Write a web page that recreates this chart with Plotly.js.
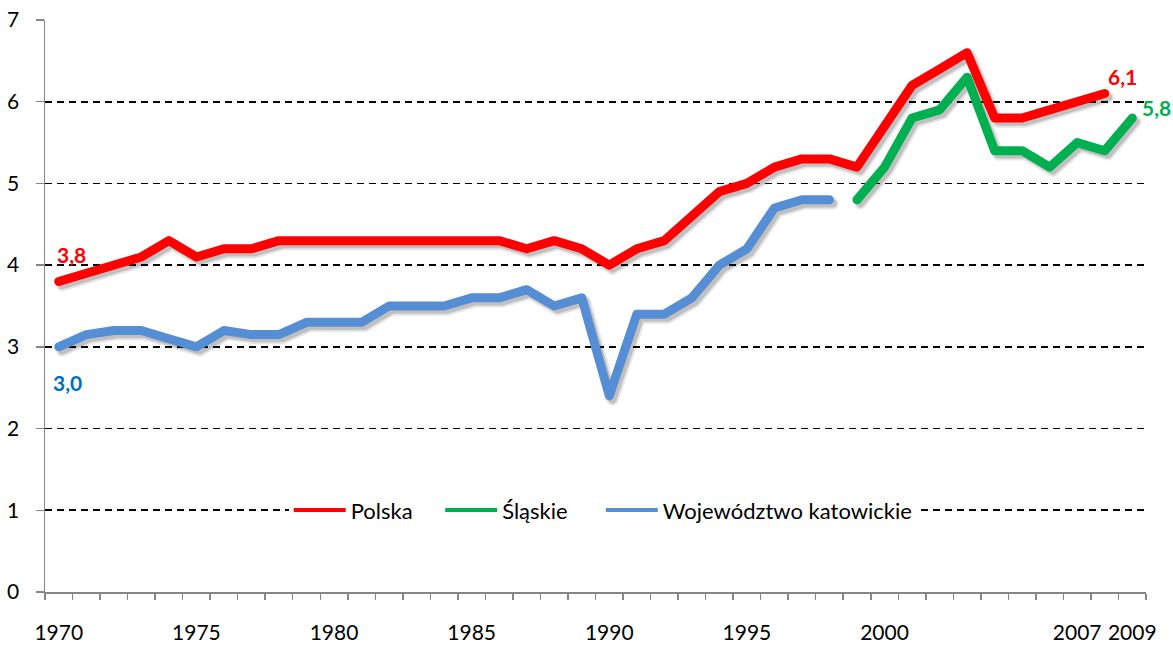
<!DOCTYPE html>
<html>
<head>
<meta charset="utf-8">
<script src="https://cdn.plot.ly/plotly-3.0.1.min.js"></script>
<style>
  html, body { margin: 0; padding: 0; background: #fff; }
  #chart { width: 1173px; height: 646px; }
  .scatterlayer .js-line { stroke-linecap: round !important; stroke-linejoin: round !important; }
</style>
</head>
<body>
<div id="chart"></div>
<script>
// ---- data ----
const years = [1970,1971,1972,1973,1974,1975,1976,1977,1978,1979,
               1980,1981,1982,1983,1984,1985,1986,1987,1988,1989,
               1990,1991,1992,1993,1994,1995,1996,1997,1998,1999,
               2000,2001,2002,2003,2004,2005,2006,2007,2008,2009];

const polska = [3.8,3.9,4.0,4.1,4.3,4.1,4.2,4.2,4.3,4.3,
                4.3,4.3,4.3,4.3,4.3,4.3,4.3,4.2,4.3,4.2,
                4.0,4.2,4.3,4.6,4.9,5.0,5.2,5.3,5.3,5.2,
                5.7,6.2,6.4,6.6,5.8,5.8,5.9,6.0,6.1,null];

const slaskie = [null,null,null,null,null,null,null,null,null,null,
                 null,null,null,null,null,null,null,null,null,null,
                 null,null,null,null,null,null,null,null,null,4.8,
                 5.2,5.8,5.9,6.3,5.4,5.4,5.2,5.5,5.4,5.8];

const katowickie = [3.0,3.15,3.2,3.2,3.1,3.0,3.2,3.15,3.15,3.3,
                    3.3,3.3,3.5,3.5,3.5,3.6,3.6,3.7,3.5,3.6,
                    2.4,3.4,3.4,3.6,4.0,4.2,4.7,4.8,4.8,null,
                    null,null,null,null,null,null,null,null,null,null];

const seriesNames = ['Polska', 'Śląskie', 'Województwo katowickie'];
const tickYears = [1970,1975,1980,1985,1990,1995,2000,2007,2009];

// ---- styles ----
const colors = ['#FF0000', '#00B050', '#558ED5'];
const seriesData = [polska, slaskie, katowickie];
const FONT = 'Lato, "Open Sans", sans-serif';
const legendPad = ['\u00a0\u00a0\u00a0\u00a0', '\u00a0\u00a0\u00a0\u00a0\u00a0', ''];

const traces = [];
// shadows (on hidden, slightly shifted axes)
seriesData.forEach((ys) => {
  traces.push({
    x: years, y: ys, xaxis: 'x', yaxis: 'y', type: 'scatter', mode: 'lines',
    line: { color: 'rgba(0,0,0,0.10)', width: 12 },
    connectgaps: false, showlegend: false, hoverinfo: 'skip'
  });
  traces.push({
    x: years, y: ys, xaxis: 'x', yaxis: 'y', type: 'scatter', mode: 'lines',
    line: { color: 'rgba(0,0,0,0.16)', width: 8 },
    connectgaps: false, showlegend: false, hoverinfo: 'skip'
  });
});
// legend carriers (thin, hidden under main lines)
seriesData.forEach((ys, i) => {
  traces.push({
    x: years, y: ys, xaxis: 'x2', yaxis: 'y2', type: 'scatter', mode: 'lines',
    name: seriesNames[i] + legendPad[i], line: { color: colors[i], width: 4 },
    connectgaps: false, showlegend: true, hoverinfo: 'skip'
  });
});
// main lines
seriesData.forEach((ys, i) => {
  traces.push({
    x: years, y: ys, xaxis: 'x2', yaxis: 'y2', type: 'scatter', mode: 'lines',
    name: seriesNames[i], line: { color: colors[i], width: 9 },
    connectgaps: false, showlegend: false
  });
});

const fmt = v => v.toFixed(1).replace('.', ',');
const lastIdx = arr => { for (let i = arr.length - 1; i >= 0; i--) if (arr[i] != null) return i; return -1; };
const iP = lastIdx(polska), iS = lastIdx(slaskie);

const annotations = [
  { x: years[0], y: polska[0], text: '<b>' + fmt(polska[0]) + '</b>', xshift: 13, yshift: 27, color: colors[0] },
  { x: years[0], y: katowickie[0], text: '<b>' + fmt(katowickie[0]) + '</b>', xshift: 9, yshift: -36, color: '#0070C0' },
  { x: years[iP], y: polska[iP], text: '<b>' + fmt(polska[iP]) + '</b>', xshift: 18, yshift: 17, color: colors[0] },
  { x: years[iS], y: slaskie[iS], text: '<b>' + fmt(slaskie[iS]) + '</b>', xshift: 24, yshift: 11, color: colors[1] }
].map(a => ({
  x: a.x, y: a.y, xref: 'x2', yref: 'y2', text: a.text, showarrow: false,
  xshift: a.xshift, yshift: a.yshift, xanchor: 'center', yanchor: 'middle',
  font: { family: FONT, size: 21, color: a.color }
}));

const pxX = 0.12, pxY = 0.045;
const layout = {
  width: 1173, height: 646,
  margin: { l: 45, r: 27, t: 20, b: 54 },
  paper_bgcolor: '#fff', plot_bgcolor: '#fff',
  font: { family: FONT, size: 21, color: '#000' },
  showlegend: true,
  legend: {
    orientation: 'h', x: 0.507, xanchor: 'center', y: 0.143, yanchor: 'middle',
    bgcolor: '#fff', font: { family: FONT, size: 22, color: '#000' },
    itemwidth: 52, traceorder: 'normal'
  },
  xaxis: { visible: false, range: [1969.5 - pxX, 2009.5 - pxX], fixedrange: true },
  yaxis: { visible: false, range: [0 + pxY, 7 + pxY], fixedrange: true },
  xaxis2: {
    overlaying: 'x', anchor: 'y2', side: 'bottom',
    range: [1969.5, 2009.5], tickmode: 'array', tickvals: tickYears,
    ticktext: tickYears.map(String), ticks: '', ticklabelstandoff: 21,
    showgrid: false, zeroline: false, showline: true, linecolor: '#868686', linewidth: 1.5,
    minor: { tickmode: 'linear', tick0: 1969.5, dtick: 1, ticks: 'outside', ticklen: 6, tickcolor: '#868686', tickwidth: 1.5, showgrid: false },
    tickfont: { family: FONT, size: 21, color: '#000' }
  },
  yaxis2: {
    overlaying: 'y', anchor: 'x2', side: 'left',
    range: [0, 7], tickmode: 'linear', tick0: 0, dtick: 1,
    ticks: 'outside', ticklen: 8, tickcolor: '#868686', tickwidth: 1.5,
    ticklabelstandoff: 12,
    showgrid: true, gridcolor: '#000', gridwidth: 1.6, griddash: '7px,5px',
    zeroline: false, showline: true, linecolor: '#868686', linewidth: 1.5,
    tickfont: { family: FONT, size: 21, color: '#000' }
  },
  annotations: annotations
};

Plotly.newPlot('chart', traces, layout, { displayModeBar: false, staticPlot: true });
</script>
</body>
</html>
